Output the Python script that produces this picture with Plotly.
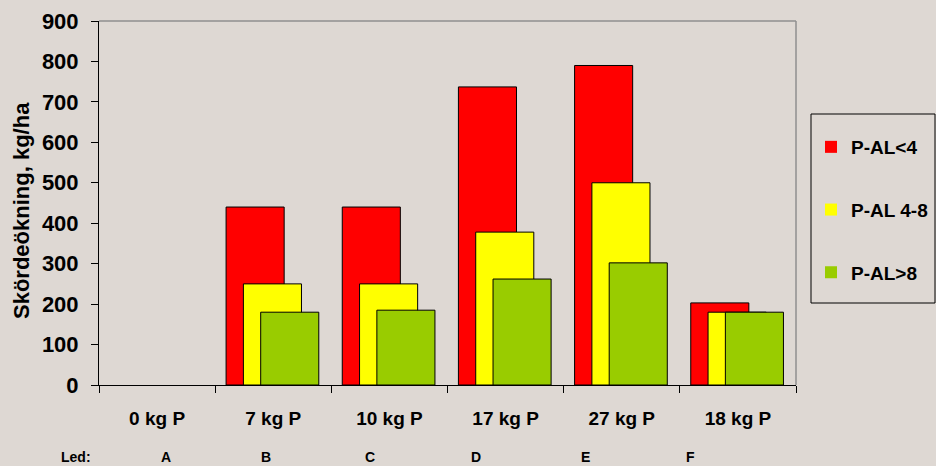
import plotly.graph_objects as go

# Category labels (phosphorus dose) and treatment letters
categories = ["0 kg P", "7 kg P", "10 kg P", "17 kg P", "27 kg P", "18 kg P"]
led_labels = ["A", "B", "C", "D", "E", "F"]

# Yield increase, kg/ha, per soil P-AL class
series_names = ["P-AL<4", "P-AL 4-8", "P-AL>8"]
pal_low = [0, 440, 440, 737, 790, 203]
pal_mid = [0, 250, 250, 378, 500, 180]
pal_high = [0, 180, 185, 262, 302, 180]

y_ticks = [0, 100, 200, 300, 400, 500, 600, 700, 800, 900]

W, H = 936, 466
L, R, T, B = 99, 140, 21, 81
PW, PH = W - L - R, H - T - B

BG = "#DED8D3"
FONT = "Arial, Liberation Sans, sans-serif"
colors = ["#FF0000", "#FFFF00", "#99CC00"]
offsets = [-0.406, -0.257, -0.108]
bar_w = 0.5

fig = go.Figure()
for i, (name, vals) in enumerate(zip(series_names, [pal_low, pal_mid, pal_high])):
    fig.add_trace(go.Bar(
        x=categories, y=vals, name=f"<b>{name}</b>",
        offset=offsets[i], width=bar_w,
        marker=dict(color=colors[i],
                    line=dict(color="#000000",
                              width=[0 if v == 0 else 1 for v in vals])),
        legendgroup=name,
    ))


def px_x(p):
    return (p - L) / PW


def px_y(p):
    return (H - B - p) / PH


annotations = [
    dict(text="<b>Skördeökning, kg/ha</b>", textangle=-90,
         xref="paper", yref="paper", x=px_x(22), y=px_y(211),
         xanchor="center", yanchor="middle", showarrow=False,
         font=dict(family=FONT, size=22, color="#000000")),
    dict(text="<b>Led:</b>", xref="paper", yref="paper",
         x=px_x(76), y=px_y(457), xanchor="center", yanchor="middle",
         showarrow=False, font=dict(family=FONT, size=14, color="#000000")),
]
led_x = [166, 266, 370, 476, 585, 690]
for lab, xp in zip(led_labels, led_x):
    annotations.append(dict(
        text=f"<b>{lab}</b>", xref="paper", yref="paper",
        x=px_x(xp), y=px_y(457), xanchor="center", yanchor="middle",
        showarrow=False, font=dict(family=FONT, size=14, color="#000000")))

fig.update_layout(
    width=W, height=H,
    margin=dict(l=L, r=R, t=T, b=B, pad=0, autoexpand=False),
    paper_bgcolor=BG, plot_bgcolor=BG,
    barmode="overlay",
    font=dict(family=FONT, color="#000000"),
    showlegend=True,
    legend=dict(
        x=px_x(811), y=px_y(128), xanchor="left", yanchor="top",
        bgcolor="rgba(0,0,0,0)", borderwidth=0,
        font=dict(family=FONT, size=19, color="#000000"),
        tracegroupgap=35, traceorder="grouped",
    ),
    xaxis=dict(
        type="category", range=[-0.5, 5.5],
        showline=True, linecolor="#000000", linewidth=1,
        ticks="outside", tickson="boundaries", ticklen=7, tickcolor="#000000",
        tickfont=dict(family=FONT, size=19, color="#000000"),
        ticklabelstandoff=16,
        showgrid=False, zeroline=False,
        tickvals=categories, ticktext=[f"<b>{c}</b>" for c in categories],
    ),
    yaxis=dict(
        range=[0, 900],
        tickvals=y_ticks, ticktext=[f"<b>{v}</b>" for v in y_ticks],
        showline=True, linecolor="#000000", linewidth=1,
        ticks="outside", ticklen=7, tickcolor="#000000",
        tickfont=dict(family=FONT, size=22, color="#000000"),
        ticklabelstandoff=8,
        showgrid=False, zeroline=False,
    ),
    shapes=[
        # plot-area frame (top and right edges)
        dict(type="line", xref="paper", yref="paper", x0=0, x1=1, y0=1, y1=1,
             line=dict(color="#8F8F8F", width=1.5), layer="below"),
        dict(type="line", xref="paper", yref="paper", x0=1, x1=1, y0=0, y1=1,
             line=dict(color="#8F8F8F", width=1.5), layer="below"),
        # legend frame
        dict(type="rect", xref="paper", yref="paper",
             x0=px_x(811), x1=px_x(935), y0=px_y(303), y1=px_y(114),
             line=dict(color="#000000", width=1), fillcolor=BG, layer="below"),
    ],
    annotations=annotations,
)

fig.write_html("out.html")
